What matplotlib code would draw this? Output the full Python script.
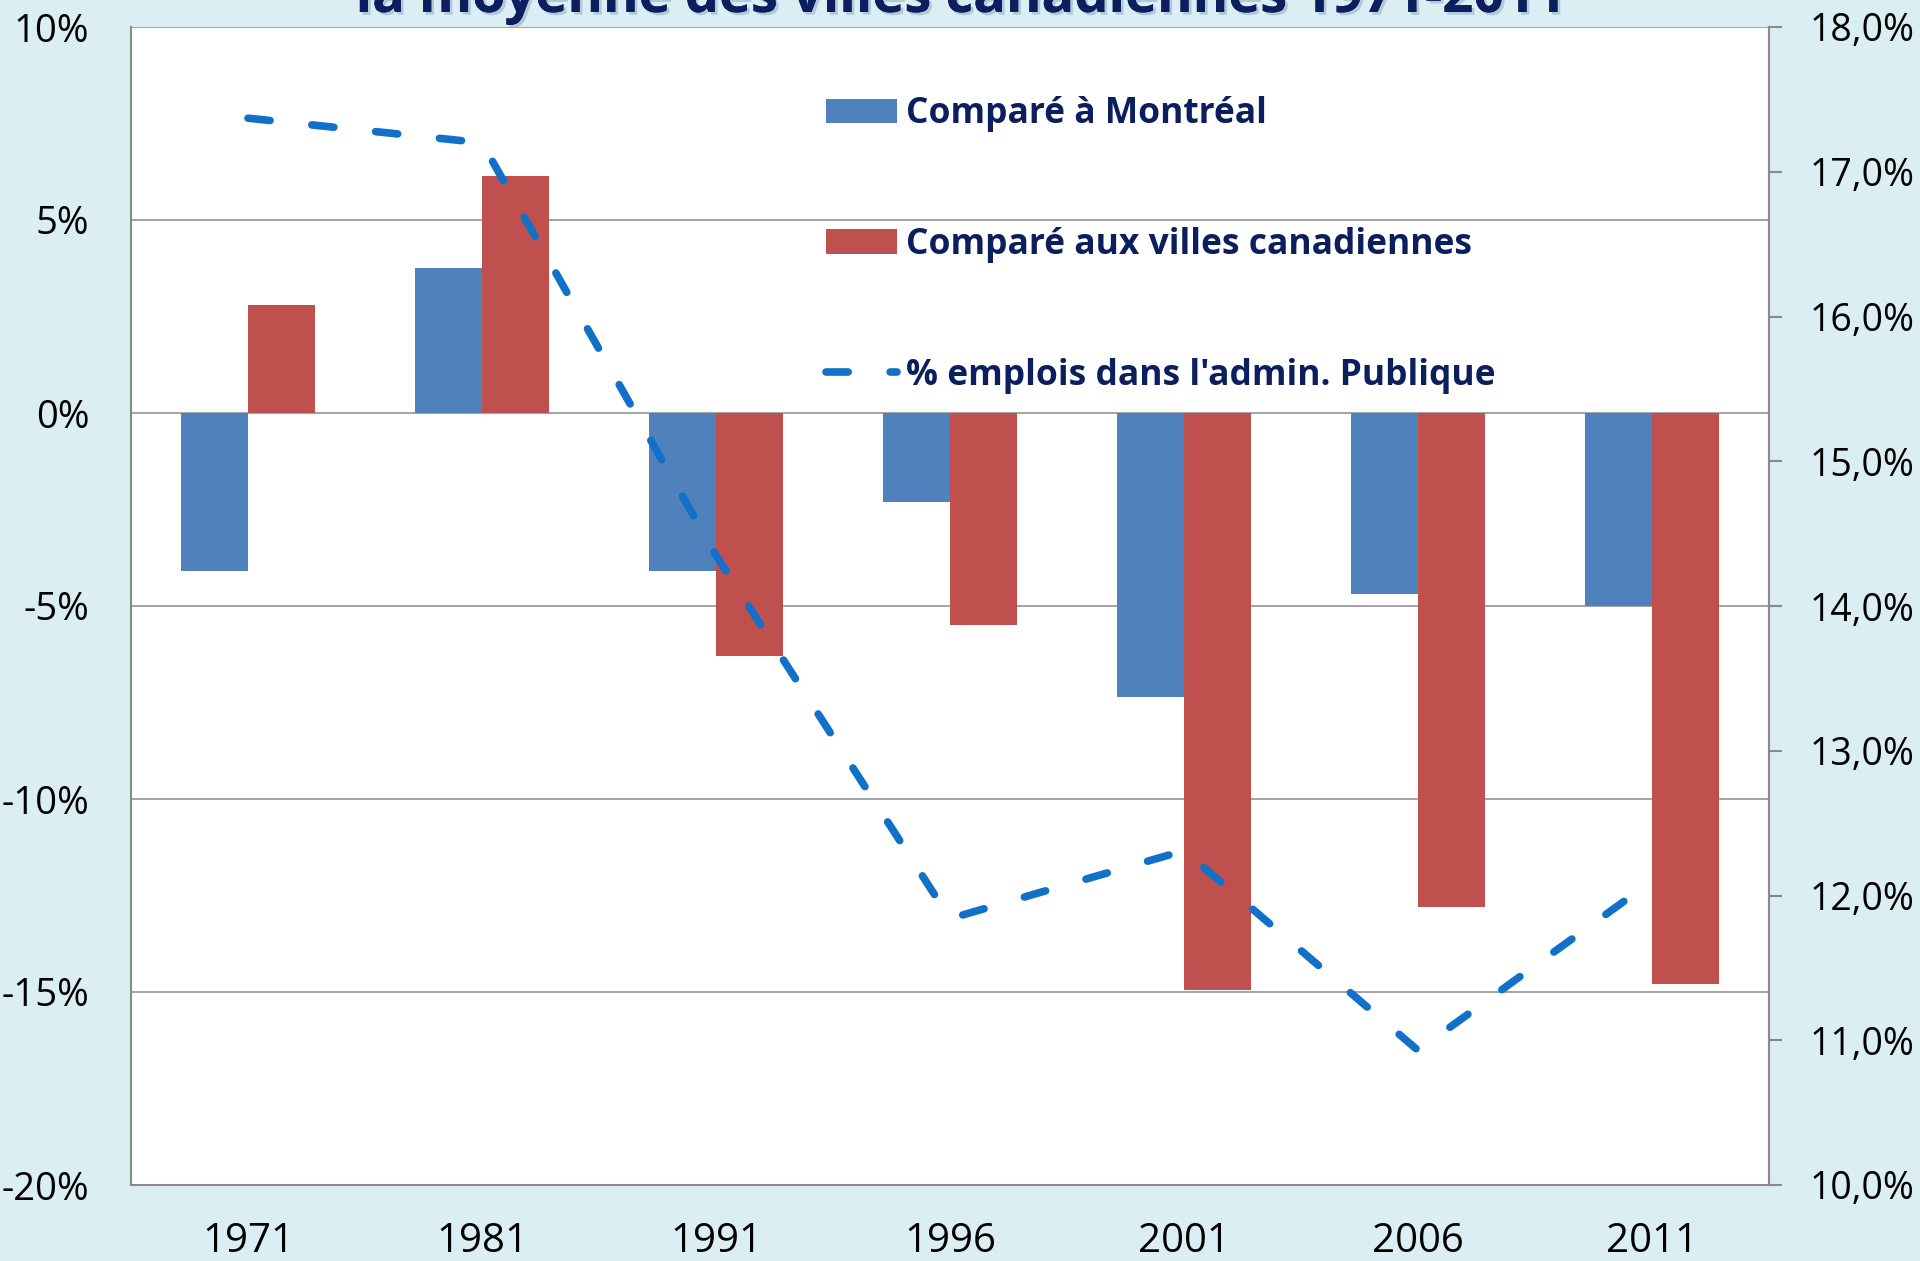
import matplotlib
matplotlib.use("Agg")
import matplotlib.pyplot as plt
import matplotlib.patheffects as pe
import numpy as np

# data
years = ["1971", "1981", "1991", "1996", "2001", "2006", "2011"]
vs_montreal = [-4.1, 3.75, -4.1, -2.3, -7.35, -4.7, -5.0]
vs_canada = [2.8, 6.15, -6.3, -5.5, -14.95, -12.8, -14.8]
pct_admin = [17.37, 17.2, 14.35, 11.84, 12.31, 10.93, 12.1]

left_ticks = [-20, -15, -10, -5, 0, 5, 10]
right_ticks = [10, 11, 12, 13, 14, 15, 16, 17, 18]

plt.rcParams['font.family'] = ['Open Sans', 'DejaVu Sans']

bg = '#DBEEF4'
navy = '#0B1F5E'
grid_c = '#8A8A8A'

fig = plt.figure(figsize=(19.2, 12.61), dpi=100, facecolor=bg)
ax = fig.add_axes([131 / 1920, 76 / 1261, 1638 / 1920, 1158 / 1261])
ax.set_facecolor('white')

x = np.arange(len(years))
w = 0.287
b1 = ax.bar(x - w / 2, vs_montreal, w, color='#4F81BD', label='Comparé à Montréal', zorder=3)
b2 = ax.bar(x + w / 2, vs_canada, w, color='#C0504D', label='Comparé aux villes canadiennes', zorder=3)

ax.set_xlim(-0.5, len(years) - 0.5)
ax.set_ylim(-20, 10)
ax.set_yticks(left_ticks)
ax.set_yticklabels([f"{t}%" for t in left_ticks])
ax.set_xticks(x)
ax.set_xticklabels(years)
ax.yaxis.grid(True, color=grid_c, linewidth=1.1, zorder=0)
ax.set_axisbelow(True)
ax.tick_params(axis='both', length=0, labelcolor='black')
ax.tick_params(axis='y', pad=30, labelsize=27.5)
ax.tick_params(axis='x', pad=26, labelsize=29)
for s in ['left', 'bottom', 'right']:
    ax.spines[s].set_color(grid_c)
    ax.spines[s].set_linewidth(1.5)
ax.spines['top'].set_visible(False)

ax2 = ax.twinx()
line, = ax2.plot(x, pct_admin, color='#1170C8', linewidth=5.5,
                 dashes=(2.9, 5.5), dash_capstyle='round',
                 label="% emplois dans l'admin. Publique", zorder=4)
ax2.set_ylim(10, 18)
ax2.set_yticks(right_ticks)
ax2.set_yticklabels([f"{t:.1f}%".replace('.', ',') for t in right_ticks])
ax2.tick_params(axis='y', direction='out', length=9, width=1.5, color=grid_c,
                pad=20, labelsize=27, labelcolor='black')
for s in ['left', 'bottom', 'top']:
    ax2.spines[s].set_visible(False)
ax2.spines['right'].set_color(grid_c)
ax2.spines['right'].set_linewidth(1.5)

leg = ax2.legend(handles=[b1, b2, line], loc='upper left',
                 bbox_to_anchor=(0.4246, 0.940), frameon=False,
                 prop={'weight': 'bold', 'size': 25.5},
                 handlelength=2.0, handletextpad=0.25, labelspacing=2.67,
                 borderpad=0, borderaxespad=0)
for t in leg.get_texts():
    t.set_color(navy)

fig.text(0.5, 0.9905, 'la moyenne des villes canadiennes 1971-2011',
         ha='center', va='baseline', fontsize=39, fontweight='bold', color=navy,
         path_effects=[pe.withSimplePatchShadow(offset=(2, -2), shadow_rgbFace='#9AAFC8', alpha=0.6),
                       pe.Normal()])

fig.savefig('out.png', dpi=100, facecolor=bg)
